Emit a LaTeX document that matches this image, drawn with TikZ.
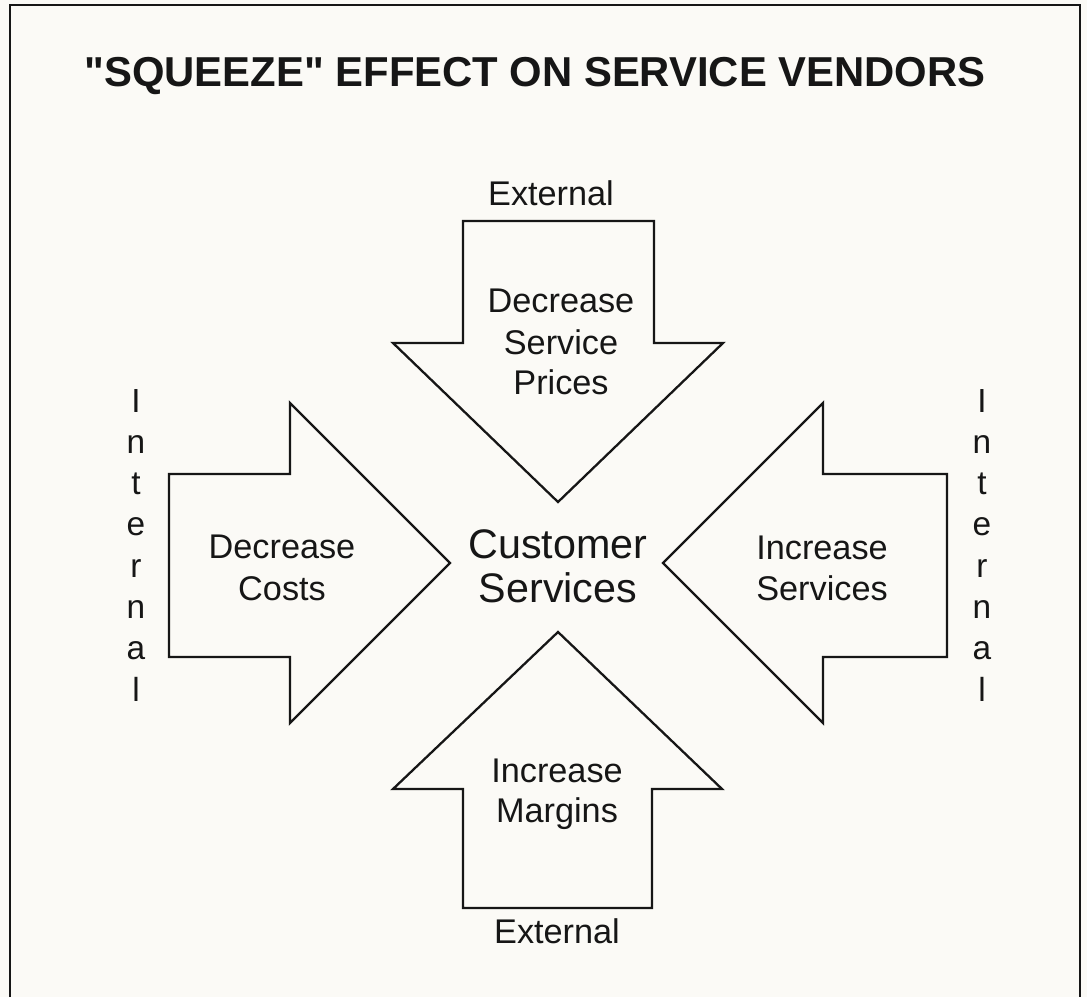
\documentclass[tikz,border=0pt]{standalone}
\usepackage{fontspec}
\setmainfont{Liberation Sans}[Ligatures=TeXOff]
\definecolor{ink}{HTML}{161616}
\definecolor{paper}{HTML}{FBFAF6}
\begin{document}
\begin{tikzpicture}[x=0.02cm,y=-0.02cm,
  arrowshape/.style={draw=ink, line width=1.3pt, line join=miter},
  lbl/.style={anchor=base, inner sep=0pt, text=ink, font=\fontsize{19.5}{23}\selectfont},
  centerlbl/.style={anchor=base, inner sep=0pt, text=ink, font=\fontsize{23.5}{28}\selectfont},
  titlelbl/.style={anchor=base, inner sep=0pt, text=ink, font=\fontsize{23.8}{28}\selectfont\bfseries},
  letter/.style={anchor=base, inner sep=0pt, text=ink, font=\fontsize{19}{23}\selectfont}]
\useasboundingbox (0,0) rectangle (1087,997);
\fill[paper] (0,0) rectangle (1087,997);
% frame
\draw[ink, line width=1.3pt] (10,997) -- (10,5) -- (1080,5) -- (1080,997);
% title
\node[titlelbl] (title) at (535,87) {"SQUEEZE" EFFECT ON SERVICE VENDORS};
% arrows
\draw[arrowshape] (463,221) -- (654,221) -- (654,343) -- (723,343) -- (558,502) -- (393,343) -- (463,343) -- cycle;
\draw[arrowshape] (169,474) -- (290,474) -- (290,403) -- (450,563) -- (290,723) -- (290,657) -- (169,657) -- cycle;
\draw[arrowshape] (947,474) -- (823,474) -- (823,403) -- (663,563) -- (823,723) -- (823,657) -- (947,657) -- cycle;
\draw[arrowshape] (463,908) -- (463,789) -- (393,789) -- (558,632) -- (722,789) -- (652,789) -- (652,908) -- cycle;
% top
\node[lbl] (ext1) at (551,205) {External};
\node[lbl] (dsp1) at (561,312) {Decrease};
\node[lbl] (dsp2) at (561,354) {Service};
\node[lbl] (dsp3) at (561,394) {Prices};
% left
\node[lbl] (dc1) at (282,558) {Decrease};
\node[lbl] (dc2) at (282,600) {Costs};
% right
\node[lbl] (is1) at (822,559) {Increase};
\node[lbl] (is2) at (822,600) {Services};
% center
\node[centerlbl] (cs1) at (558,558) {Customer};
\node[centerlbl] (cs2) at (558,602) {Services};
% bottom
\node[lbl] (im1) at (557,782) {Increase};
\node[lbl] (im2) at (557,822) {Margins};
\node[lbl] (ext2) at (557,943) {External};
% internal left & right
\foreach \ch [count=\i from 0] in {I,n,t,e,r,n,a,l} {
  \node[letter] (li\i) at (136,412+41.3*\i) {\ch};
  \node[letter] (ri\i) at (982,412+41.3*\i) {\ch};
}
\end{tikzpicture}
\end{document}
